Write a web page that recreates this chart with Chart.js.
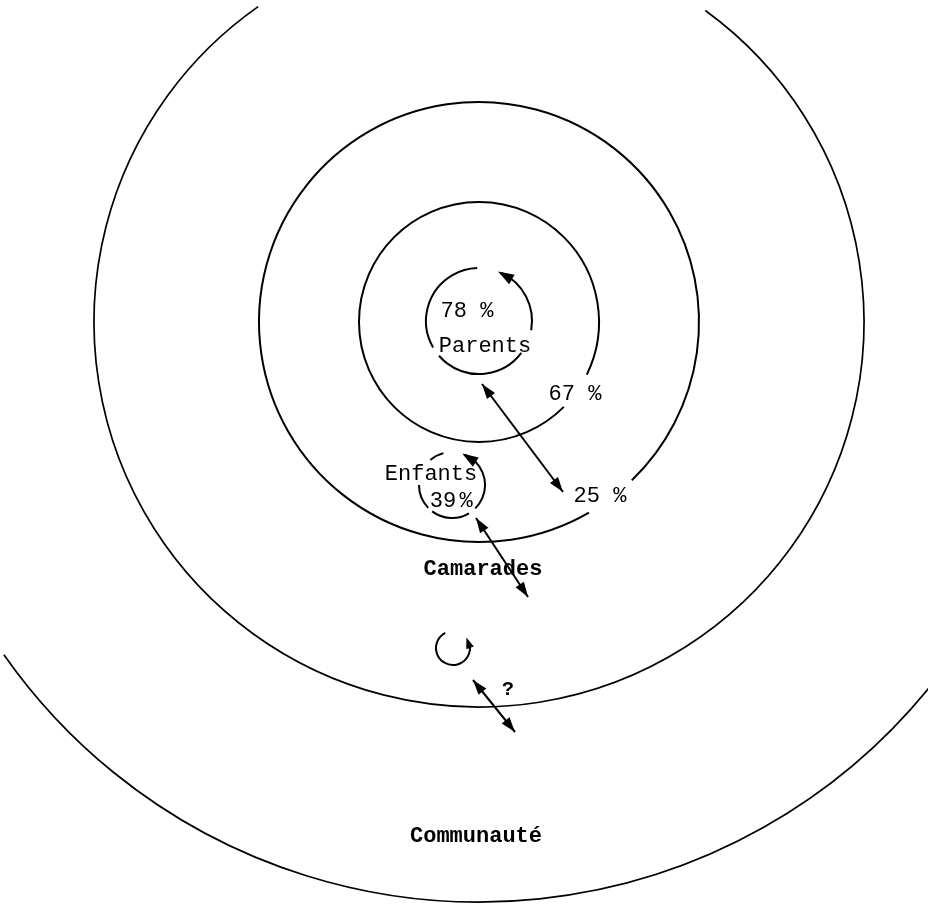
<!DOCTYPE html>
<html>
<head>
<meta charset="utf-8">
<script src="https://cdn.jsdelivr.net/npm/chart.js@4/dist/chart.umd.min.js"></script>
<style>
  html, body { margin: 0; padding: 0; background: #fff; }
  #wrap { width: 928px; height: 905px; }
</style>
</head>
<body>
<div id="wrap"><canvas id="chart" width="928" height="905"></canvas></div>
<script>
// Diagram coordinates follow the picture: x to the right, y downwards.
// Angles are in degrees, clockwise from the right (canvas convention).

// Concentric spheres around the family centre
const centre = [479, 322];
const ringRadius = [120, 220, 385, 580];
const ringGapFrom = [26, 46, 235, 145];
const ringGapTo = [45, 60, 306, 399];

// Small circular arrows (self relations)
const loopCentreX = [479, 452, 453];
const loopCentreY = [321, 485, 648];
const loopRadius = [53, 33, 17];
const loopArcs = [
  [[150, 268], [37, 139], [295, 370]],
  [[229, 255], [136, 180], [59, 127], [293, 405]],
  [[345, 603]]
];
const loopArrowAt = [291, 288, 322];

// Double headed links between spheres
const linkStart = [[482, 384], [476, 518], [473, 680]];
const linkEnd = [[563, 492], [528, 597], [515, 732]];

// Labels
const labelText = ['78 %', 'Parents', '67 %', '25 %', 'Enfants', '39', '%', 'Camarades', '?', 'Communauté'];
const labelX = [467, 485, 575, 600, 431, 443, 466, 483, 508, 476];
const labelY = [317, 352, 400, 502, 480, 507, 507, 575, 695, 842];
const labelBold = [false, false, false, false, false, false, false, true, true, true];

const FONT = '"Liberation Mono", "DejaVu Sans Mono", monospace';
const INK = '#000';

function arrowHead(ctx, tx, ty, fx, fy, len, half) {
  const a = Math.atan2(ty - fy, tx - fx);
  const bx = tx - len * Math.cos(a), by = ty - len * Math.sin(a);
  ctx.beginPath();
  ctx.moveTo(tx, ty);
  ctx.lineTo(bx + half * Math.sin(a), by - half * Math.cos(a));
  ctx.lineTo(bx - half * Math.sin(a), by + half * Math.cos(a));
  ctx.closePath();
  ctx.fill();
}

const rad = d => d * Math.PI / 180;

const diagramPlugin = {
  id: 'diagram',
  beforeDatasetsDraw(chart) {
    const { ctx, scales: { x, y } } = chart;
    const k = x.getPixelForValue(1) - x.getPixelForValue(0);
    const cx = x.getPixelForValue(centre[0]), cy = y.getPixelForValue(centre[1]);
    ctx.save();
    ctx.strokeStyle = INK;
    ctx.lineCap = 'butt';
    ringRadius.forEach((r, i) => {
      ctx.lineWidth = i < 2 ? 2 : 1.7;
      ctx.beginPath();
      ctx.arc(cx, cy, r * k, rad(ringGapTo[i]), rad(ringGapFrom[i] + 360));
      ctx.stroke();
    });

    // circular arrows
    loopRadius.forEach((r, i) => {
      const lx = x.getPixelForValue(loopCentreX[i]), ly = y.getPixelForValue(loopCentreY[i]);
      const rr = r * k;
      ctx.lineWidth = 2;
      loopArcs[i].forEach(([a0, a1]) => {
        ctx.beginPath();
        ctx.arc(lx, ly, rr, rad(a0), rad(a1));
        ctx.stroke();
      });
      const at = loopArrowAt[i];
      const len = i === 2 ? 11 : 16;
      const back = at + (len / rr) * 180 / Math.PI;
      ctx.fillStyle = INK;
      arrowHead(ctx,
        lx + rr * Math.cos(rad(at)), ly + rr * Math.sin(rad(at)),
        lx + rr * Math.cos(rad(back)), ly + rr * Math.sin(rad(back)),
        len, i === 2 ? 4 : 5.5);
    });
    ctx.restore();
  },
  afterDatasetsDraw(chart) {
    const { ctx, scales: { x, y } } = chart;
    ctx.save();
    ctx.fillStyle = INK;
    linkStart.forEach((s, i) => {
      const e = linkEnd[i];
      const sx = x.getPixelForValue(s[0]), sy = y.getPixelForValue(s[1]);
      const ex = x.getPixelForValue(e[0]), ey = y.getPixelForValue(e[1]);
      arrowHead(ctx, sx, sy, ex, ey, 15, 5);
      arrowHead(ctx, ex, ey, sx, sy, 15, 5);
    });

    ctx.textAlign = 'center';
    ctx.textBaseline = 'alphabetic';
    labelText.forEach((t, i) => {
      const size = t === '?' ? 20 : 22;
      ctx.font = (labelBold[i] ? 'bold ' : '') + size + 'px ' + FONT;
      ctx.fillText(t, x.getPixelForValue(labelX[i]), y.getPixelForValue(labelY[i]));
    });
    ctx.restore();
  }
};

new Chart(document.getElementById('chart'), {
  type: 'scatter',
  data: {
    datasets: linkStart.map((s, i) => ({
      label: 'lien ' + (i + 1),
      data: [{ x: s[0], y: s[1] }, { x: linkEnd[i][0], y: linkEnd[i][1] }],
      showLine: true,
      borderColor: INK,
      borderWidth: 2,
      pointRadius: 0,
      fill: false
    }))
  },
  options: {
    responsive: false,
    animation: false,
    devicePixelRatio: 1,
    layout: { padding: 0 },
    plugins: { legend: { display: false }, tooltip: { enabled: false } },
    scales: {
      x: { type: 'linear', min: 0, max: 928, display: false },
      y: { type: 'linear', min: 0, max: 905, reverse: true, display: false }
    }
  },
  plugins: [diagramPlugin]
});
</script>
</body>
</html>
